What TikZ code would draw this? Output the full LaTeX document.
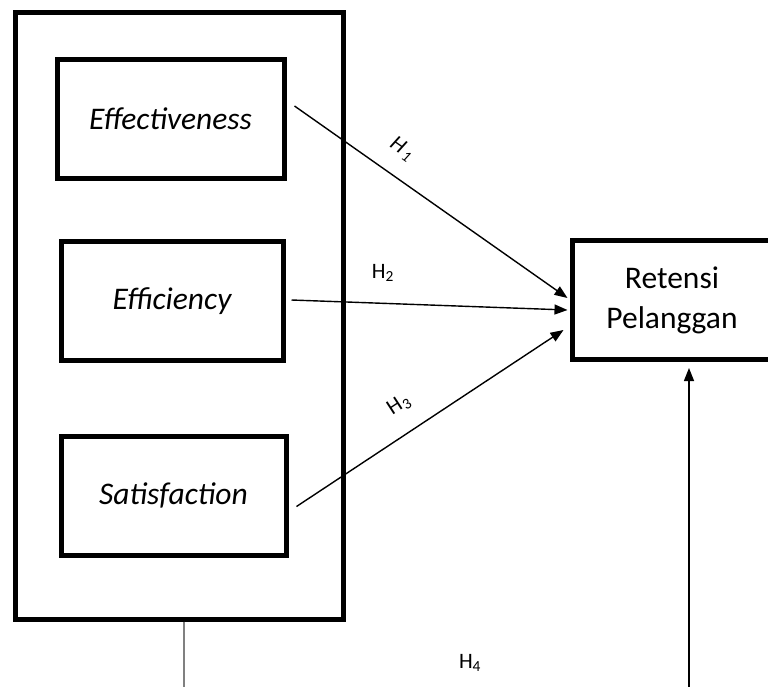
\documentclass[tikz,border=0pt]{standalone}
\usepackage{fontspec}
\setmainfont{Carlito}
\usetikzlibrary{arrows.meta}
\tikzset{
  varbox/.style={draw, line width=5pt, minimum width=#1, minimum height=119pt, inner sep=0pt,
    align=center, font=\fontsize{31.5}{40}\selectfont},
  varbox/.default=224pt,
  link/.style={line width=1.4pt, -{Triangle[length=13pt,width=10pt]}},
  hyp/.style={font=\fontsize{22}{26}\selectfont, inner sep=0pt}
}
\begin{document}
\begin{tikzpicture}[x=1pt,y=-1pt]
\useasboundingbox (0,0) rectangle (768,686);

% variabel bebas
\node[draw, line width=5pt, minimum width=328pt, minimum height=607pt] (group) at (179,315.5) {};
\node[varbox=227pt] (eff) at (170.5,119) {\itshape Effectiveness};
\node[varbox=222pt] (effi) at (172,301) {\itshape Efficiency};
\node[varbox=225pt] (sat) at (173.5,495.5) {\itshape Satisfaction};

% variabel terikat
\node[varbox=200pt] (ret) at (672,300) {Retensi\\Pelanggan};

% hipotesis
\draw[link] ([xshift=8pt,yshift=13pt]eff.east) to ([xshift=-2pt,yshift=2pt]ret.west);
\draw[link] ([xshift=6pt,yshift=1pt]effi.east) to ([xshift=-2pt,yshift=-10pt]ret.west);
\draw[link] ([xshift=8pt,yshift=-11pt]sat.east) to ([xshift=-6pt,yshift=-30pt]ret.west);

\node[hyp, rotate=-35] (h1) at (402,149) {\textit{H\kern2.5pt\textsubscript{1}}};
\node[hyp] (h2) at (383,273) {H\textsubscript{2}};
\node[hyp, rotate=33] (h3) at (399,405) {H\kern1pt\textsubscript{3}};
\node[hyp] (h4) at (470,663) {H\textsubscript{4}};

\coordinate (grayend) at (184,690);
\coordinate (h4end) at (689,690);
\draw[black!50, line width=2.5pt] ([xshift=5pt]group.south) -- (grayend);
\draw[link] (h4end) -- ([xshift=17pt,yshift=-6pt]ret.south);
\end{tikzpicture}
\end{document}
